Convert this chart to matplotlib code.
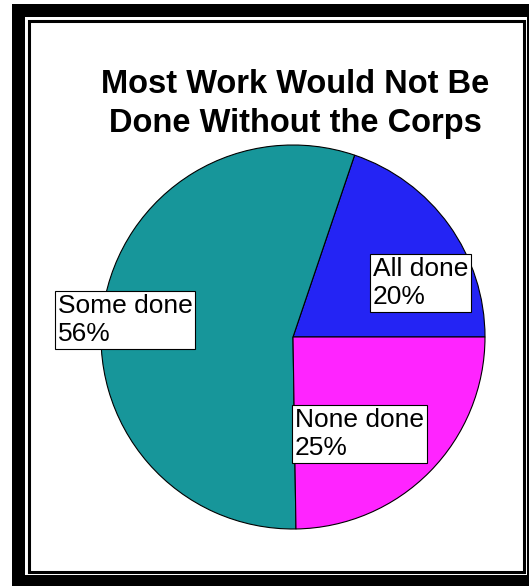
import matplotlib
matplotlib.use("Agg")
import matplotlib.pyplot as plt
from matplotlib.patches import Rectangle

categories = ["All done", "Some done", "None done"]
values = [20, 56, 25]
colors = ["#2424f4", "#17969a", "#ff24ff"]
title = "Most Work Would Not Be\nDone Without the Corps"

W, H = 529, 586
plt.rcParams['font.family'] = ['Liberation Sans', 'DejaVu Sans']
fig = plt.figure(figsize=(W / 100, H / 100), dpi=100)

def fx(x):
    return x / W

def fy(y):
    return 1 - y / H

def rect(x0, y0, x1, y1, **kw):
    fig.patches.append(Rectangle((fx(x0), fy(y1)), fx(x1) - fx(x0), fy(y0) - fy(y1),
                                 transform=fig.transFigure, figure=fig, zorder=-5, **kw))

# frame: thick outer band, thin inner line
rect(12, 4, 530, 587, facecolor="black", edgecolor="none")
rect(25, 17, 527, 575, facecolor="white", edgecolor="none")
rect(28.5, 20.5, 523.5, 571.5, facecolor="none", edgecolor="black", linewidth=2.2)

cx, cy, r = 293, 337, 192
ax = fig.add_axes([fx(cx - r), fy(cy + r), (2 * r) / W, (2 * r) / H])
ax.set_zorder(2)
ax.patch.set_visible(False)
ax.pie(values, colors=colors, startangle=0, counterclock=True,
       wedgeprops=dict(edgecolor="black", linewidth=0.8))
ax.set_xlim(-1, 1)
ax.set_ylim(-1, 1)
ax.set_aspect("equal")
ax.axis("off")

fig.text(fx(295), fy(104), title, ha="center", va="center", fontsize=23.5,
         fontweight="bold", linespacing=1.33, zorder=10)

label_pos = [(373, 283), (58, 320), (295, 434)]
for cat, v, (x, y) in zip(categories, values, label_pos):
    fig.text(fx(x), fy(y), f"{cat}\n{round(v)}%", ha="left", va="center",
             fontsize=19, linespacing=1.2, zorder=10,
             bbox=dict(boxstyle="square,pad=0.1", facecolor="white",
                       edgecolor="black", linewidth=0.8))

fig.savefig("out.png", dpi=100)
